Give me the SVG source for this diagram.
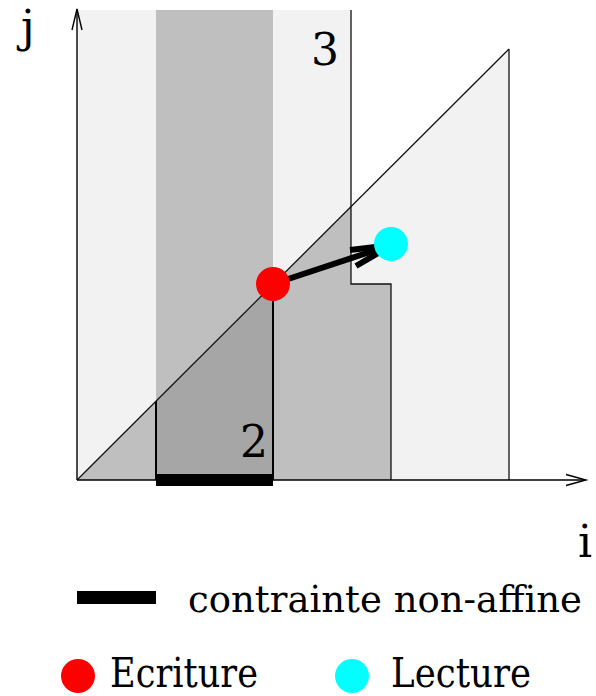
<svg xmlns="http://www.w3.org/2000/svg" width="596" height="696" viewBox="0 0 596 696">
<style>
text{font-family:'DejaVu Serif','Liberation Serif','Times New Roman',serif;font-size:44px;fill:#000}
.leg{font-size:41px}
.leg2{font-size:37.5px}
.light{fill:#f2f2f2}
.mid{fill:#bfbfbf}
.dark{fill:#a6a6a6}
.edge{fill:none;stroke:#000;stroke-width:2}
.thin{fill:none;stroke:#111;stroke-width:1.3}
</style>
<rect width="596" height="696" fill="#fff"/>
<g id="regions">
<polygon class="light" points="77,10 351,10 351,206.6 509,49 509,480 77,480"/>
<rect class="mid" x="156" y="10" width="117" height="470"/>
<polygon class="mid" points="77,480 156,401.2 156,480"/>
<polygon class="mid" points="273,284.4 351,206.6 351,284 391,284 391,480 273,480"/>
<polygon class="dark" points="156,401.2 273,284.4 273,480 156,480"/>
</g>
<g id="outlines">
<line class="edge" x1="156" y1="401" x2="156" y2="480"/>
<line class="edge" x1="273" y1="284" x2="273" y2="480"/>
<polyline class="thin" points="351,10 351,284 391,284 391,480"/>
<line class="thin" x1="509" y1="49" x2="509" y2="480"/>
<line class="thin" x1="77" y1="480" x2="509" y2="49"/>
</g>
<g id="axes" fill="none" stroke="#000" stroke-width="1.4">
<line x1="77" y1="480" x2="77" y2="9"/>
<polyline points="72,30 77,9 82,30"/>
<line x1="77" y1="480" x2="586" y2="480"/>
<polyline points="566,474.5 586,480 566,485.5"/>
</g>
<g id="constraint">
<rect x="156" y="474" width="117" height="12" fill="#000"/>
</g>
<g id="connectors" fill="none" stroke="#000" stroke-width="6">
<line x1="273" y1="284" x2="388" y2="246"/>
<polyline points="350,250 392,245 356,266" stroke-linejoin="miter"/>
</g>
<g id="ecriture"><circle cx="273" cy="284" r="17" fill="#ff0000"/></g>
<g id="lecture"><circle cx="391" cy="244" r="17" fill="#00ffff"/></g>
<g id="labels">
<text x="21" y="42">j</text>
<text x="578" y="557">i</text>
<text x="311" y="65">3</text>
<text x="240" y="457">2</text>
</g>
<g id="legend">
<rect x="77" y="591" width="79" height="13" fill="#000"/>
<text class="leg2" x="188" y="612" textLength="394" lengthAdjust="spacingAndGlyphs">contrainte non-affine</text>
<circle cx="78" cy="676" r="17" fill="#ff0000"/>
<text class="leg" x="110" y="687" textLength="148" lengthAdjust="spacingAndGlyphs">Ecriture</text>
<circle cx="352" cy="676" r="17" fill="#00ffff"/>
<text class="leg" x="391" y="687" textLength="140" lengthAdjust="spacingAndGlyphs">Lecture</text>
</g>
</svg>
